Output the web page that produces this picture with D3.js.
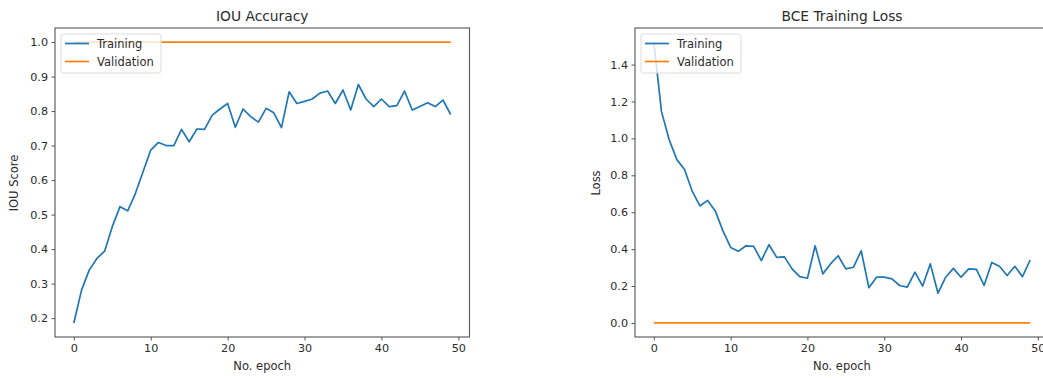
<!DOCTYPE html>
<html>
<head>
<meta charset="utf-8">
<script src="https://cdn.jsdelivr.net/npm/d3@7"></script>
<style>
  body { margin: 0; background: #fff; }
  svg text { font-family: "DejaVu Sans", sans-serif; fill: #2b2b2b; }
</style>
</head>
<body>
<div id="chart"></div>
<script>
// epochs 0..49
var epochs = d3.range(50);

var iouTrain = [0.186, 0.281, 0.339, 0.373, 0.394, 0.465, 0.523, 0.511, 0.561, 0.624,
                0.687, 0.709, 0.700, 0.700, 0.747, 0.711, 0.748, 0.747, 0.788, 0.806,
                0.822, 0.753, 0.806, 0.784, 0.768, 0.808, 0.795, 0.752, 0.856, 0.822,
                0.828, 0.835, 0.852, 0.858, 0.822, 0.861, 0.803, 0.877, 0.835, 0.813,
                0.835, 0.813, 0.816, 0.858, 0.803, 0.813, 0.824, 0.813, 0.832, 0.790];
var iouVal = epochs.map(function() { return 1.0; });

var lossTrain = [1.522, 1.145, 0.993, 0.885, 0.831, 0.714, 0.634, 0.664, 0.607, 0.499,
                 0.409, 0.388, 0.418, 0.415, 0.338, 0.424, 0.355, 0.358, 0.293, 0.251,
                 0.242, 0.418, 0.266, 0.320, 0.364, 0.293, 0.302, 0.391, 0.191, 0.248,
                 0.248, 0.239, 0.203, 0.194, 0.275, 0.200, 0.320, 0.161, 0.248, 0.296,
                 0.248, 0.293, 0.290, 0.203, 0.328, 0.307, 0.257, 0.307, 0.251, 0.341];
var lossVal = epochs.map(function() { return 0.0; });

var xTicks = [0, 10, 20, 30, 40, 50];
var iouTicks = [0.2, 0.3, 0.4, 0.5, 0.6, 0.7, 0.8, 0.9, 1.0];
var lossTicks = [0.0, 0.2, 0.4, 0.6, 0.8, 1.0, 1.2, 1.4];
var seriesNames = ["Training", "Validation"];
var colors = ["#1f77b4", "#ff7f0e"];

var svg = d3.select("#chart").append("svg")
    .attr("width", 1043)
    .attr("height", 378);

function panel(opt) {
    var g = svg.append("g");
    var left = opt.left, right = opt.right, top = 28, bottom = 337;

    var x = d3.scaleLinear().domain([-2.45, 51.45]).range([left, right]);
    var all = opt.train.concat(opt.val);
    var lo = d3.min(all), hi = d3.max(all), pad = (hi - lo) * 0.05;
    var y = d3.scaleLinear().domain([lo - pad, hi + pad]).range([bottom, top]);

    var line = d3.line()
        .x(function(d, i) { return x(epochs[i]); })
        .y(function(d) { return y(d); });

    [opt.train, opt.val].forEach(function(s, k) {
        g.append("path")
            .datum(s)
            .attr("d", line)
            .attr("fill", "none")
            .attr("stroke", colors[k])
            .attr("stroke-width", 1.7)
            .attr("stroke-linejoin", "round");
    });

    // frame
    g.append("rect")
        .attr("x", left).attr("y", top)
        .attr("width", right - left).attr("height", bottom - top)
        .attr("fill", "none").attr("stroke", "#555").attr("stroke-width", 1.1);

    var xAxis = g.append("g")
        .attr("transform", "translate(0," + bottom + ")")
        .call(d3.axisBottom(x).tickValues(xTicks).tickFormat(d3.format("d"))
            .tickSize(3.5).tickPadding(3.5));
    var yAxis = g.append("g")
        .attr("transform", "translate(" + left + ",0)")
        .call(d3.axisLeft(y).tickValues(opt.yTicks).tickFormat(d3.format(".1f"))
            .tickSize(3.5).tickPadding(3.5));
    [xAxis, yAxis].forEach(function(a) {
        a.select(".domain").remove();
        a.selectAll("line").attr("stroke", "#555");
        a.selectAll("text").attr("font-size", 11.2).style("fill", "#2b2b2b");
    });

    g.append("text")
        .attr("x", (left + right) / 2)
        .attr("y", 21)
        .attr("text-anchor", "middle")
        .attr("font-size", 13.8)
        .text(opt.title);

    g.append("text")
        .attr("x", (left + right) / 2)
        .attr("y", 370)
        .attr("text-anchor", "middle")
        .attr("font-size", 11.5)
        .text("No. epoch");

    g.append("text")
        .attr("transform", "translate(" + opt.ylabX + ",183) rotate(-90)")
        .attr("text-anchor", "middle")
        .attr("font-size", 11.5)
        .text(opt.ylabel);

    // legend
    var lg = g.append("g").attr("transform", "translate(" + (left + 6) + ",34)");
    lg.append("rect")
        .attr("width", 100).attr("height", 39).attr("rx", 2.5)
        .attr("fill", "#fff").attr("fill-opacity", 0.8)
        .attr("stroke", "#ddd");
    seriesNames.forEach(function(n, k) {
        var yy = 9.5 + k * 18;
        lg.append("line")
            .attr("x1", 4).attr("x2", 28)
            .attr("y1", yy).attr("y2", yy)
            .attr("stroke", colors[k]).attr("stroke-width", 1.7);
        lg.append("text")
            .attr("x", 36).attr("y", yy + 4)
            .attr("font-size", 11.5)
            .text(n);
    });
}

panel({ left: 55, right: 469.5, train: iouTrain, val: iouVal, yTicks: iouTicks,
        title: "IOU Accuracy", ylabel: "IOU Score", ylabX: 18 });
panel({ left: 635, right: 1049, train: lossTrain, val: lossVal, yTicks: lossTicks,
        title: "BCE Training Loss", ylabel: "Loss", ylabX: 600 });
</script>
</body>
</html>
